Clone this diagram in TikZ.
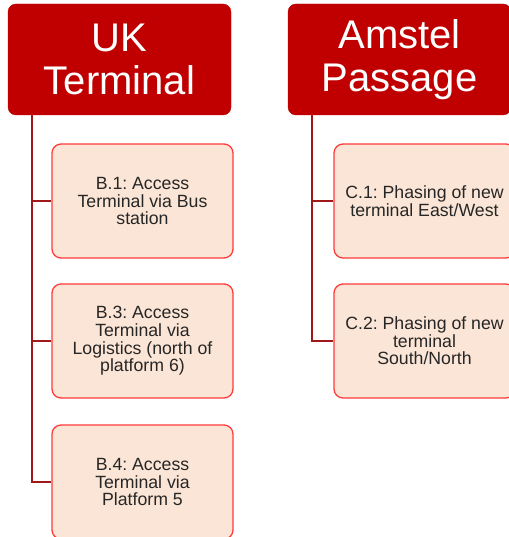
\documentclass[tikz,border=0pt]{standalone}
\usepackage{fontspec}
\setmainfont{Liberation Sans}
\frenchspacing
\definecolor{hdr}{HTML}{C00000}
\definecolor{boxfill}{HTML}{FBE5D6}
\definecolor{boxline}{HTML}{FF3B3B}
\definecolor{conn}{HTML}{A01818}
\definecolor{txt}{HTML}{262626}
\begin{document}
\begin{tikzpicture}[x=1pt,y=-1pt,
  header/.style={draw=hdr, fill=hdr, rounded corners=8pt, minimum width=223pt, minimum height=111pt,
    text=white, align=center, inner sep=0pt, font=\fontsize{40}{43}\selectfont},
  item/.style={draw=boxline, line width=1.3pt, fill=boxfill, rounded corners=9pt, minimum width=181pt,
    minimum height=114pt, text=txt, align=center, inner sep=0pt, font=\fontsize{17.7}{17.6}\selectfont},
  link/.style={draw=conn, line width=1.4pt}]
\useasboundingbox (0,0) rectangle (508,537);
\node[header] (uk) at (119.5,59.5) {UK\\Terminal};
\node[header] (am) at (399.5,59.5) {Amstel\\Passage};
\node[item] (b1) at (142.5,201) {B.1: Access\\Terminal via Bus\\station};
\node[item] (b3) at (142.5,341) {B.3: Access\\Terminal via\\Logistics (north of\\platform 6)};
\node[item] (b4) at (142.5,482) {B.4: Access\\Terminal via\\Platform 5};
\node[item] (c1) at (424.5,201) {C.1: Phasing of new\\terminal East/West};
\node[item] (c2) at (424.5,341) {C.2: Phasing of new\\terminal\\South/North};
\coordinate (ukr) at ([xshift=24pt]uk.south west);
\coordinate (amr) at ([xshift=24pt]am.south west);
\draw[link] (ukr) |- (b4.west);
\draw[link] (ukr) |- (b1.west);
\draw[link] (ukr) |- (b3.west);
\draw[link] (amr) |- (c2.west);
\draw[link] (amr) |- (c1.west);
\end{tikzpicture}
\end{document}
